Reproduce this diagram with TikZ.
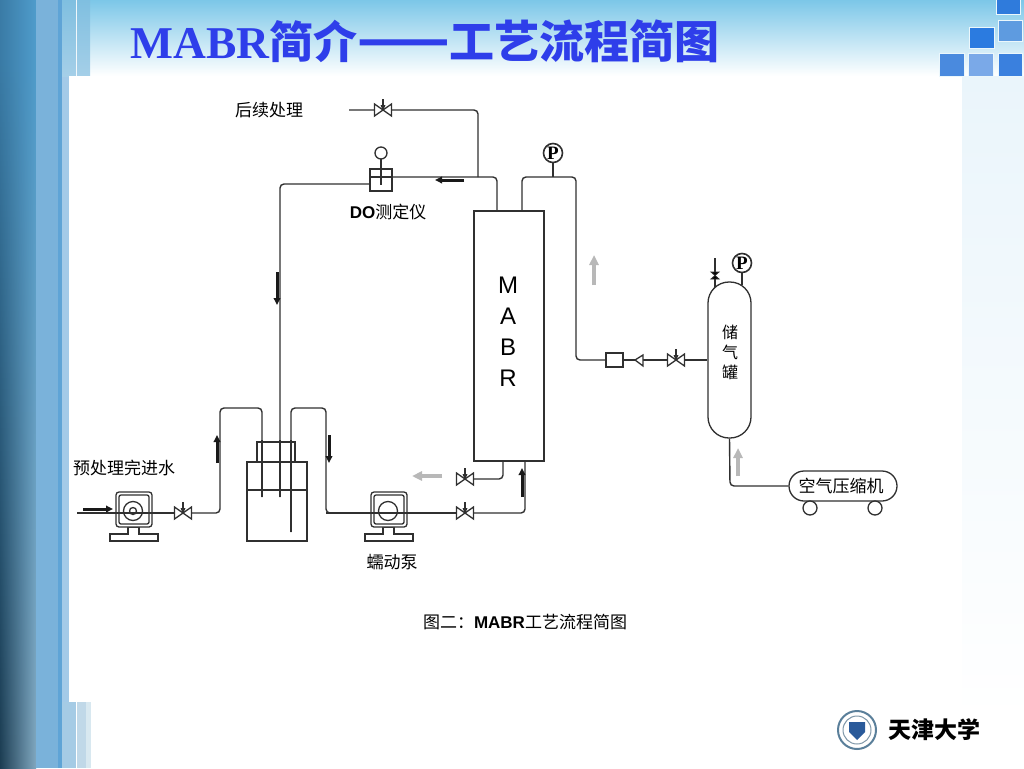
\documentclass[tikz,border=0pt]{standalone}
\usepackage{fontspec}
\usepackage{tikz}
\usetikzlibrary{arrows.meta}
\usetikzlibrary{calc}
\usetikzlibrary{fadings}
\setmainfont{Liberation Sans}
\newfontfamily\cjk{Noto Sans CJK SC}
\newfontfamily\titlefont{Liberation Serif}
\definecolor{titleblue}{HTML}{2E3EEA}
\definecolor{pipegray}{HTML}{303030}
\definecolor{skyblue}{HTML}{7CC7E8}
\definecolor{paleblue}{HTML}{EAF5FB}
\definecolor{bandleft}{HTML}{3A7BA6}
\definecolor{bandright}{HTML}{4F9CCB}
\definecolor{bandmid}{HTML}{7AB2DA}
\definecolor{bandedge}{HTML}{5FA4D6}
\definecolor{bandpale}{HTML}{A3CAE8}
\definecolor{stripa}{HTML}{A5CBE5}
\definecolor{stripb}{HTML}{C0D8E8}
\definecolor{stripc}{HTML}{D8E8F0}
\definecolor{stripd}{HTML}{7FBFE0}
\definecolor{stripe}{HTML}{A5CFE8}
\definecolor{tilea}{HTML}{2F7BDC}
\definecolor{tileb}{HTML}{5E9BE0}
\definecolor{tilec}{HTML}{2B7BE0}
\definecolor{tiled}{HTML}{4A8ADE}
\definecolor{tilee}{HTML}{7AA9E8}
\definecolor{tilef}{HTML}{3A80DE}
\definecolor{sealring}{HTML}{5A7F9A}
\definecolor{sealinner}{HTML}{7F97A8}
\definecolor{sealblue}{HTML}{2A5A9A}
\tikzset{
  pipe/.style={draw=pipegray, line width=1.4pt, rounded corners=4pt},
  part/.style={draw=pipegray, line width=1.3pt, fill=white},
  flowblack/.style={-{Triangle[length=7pt,width=6.5pt]}, line width=3pt, black!90},
  flowgray/.style={-{Triangle[length=10pt,width=9pt]}, line width=3.6pt, black!28},
  label/.style={text=black, inner sep=0pt, font=\fontsize{17}{20}\selectfont\cjk},
  tile/.style={draw=white!85!skyblue, line width=1pt},
  valve/.pic={
    \draw[part] (-8.5,-6) -- (8.5,6) -- (8.5,-6) -- (-8.5,6) -- cycle;
    \fill[pipegray] (-2.5,-5) -- (2.5,-5) -- (0,1) -- cycle;
    \draw[pipegray, line width=1.8pt] (0,0) -- (0,-11);
  },
  gauge/.pic={
    \draw[part, line width=1.6pt] (0,0) circle (9.5);
    \node[inner sep=0pt, font=\fontsize{19}{19}\selectfont\titlefont\bfseries] at (0,0) {P};
  },
  pump/.pic={
    \draw[part] (-23,28) -- (-23,21) -- (-5,21) -- (-5,14) -- (6,14) -- (6,21) -- (25,21) -- (25,28) -- cycle;
    \draw[part, rounded corners=3pt] (-17,-21) rectangle (19,14);
    \draw[draw=pipegray, line width=1.3pt, rounded corners=2pt] (-14,-18) rectangle (16,11);
    \draw[pipegray, line width=1.3pt] (0,-2) circle (9.5);
  }
}
\begin{document}
\begin{tikzpicture}[x=1pt, y=-1pt]
  \useasboundingbox (0,0) rectangle (1024,768);

  % slide background
  \fill[white] (0,0) rectangle (1024,768);
  \shade[top color=skyblue, bottom color=white] (90,0) rectangle (1024,76);
  \shade[top color=paleblue, bottom color=white] (962,76) rectangle (1024,720);
  \shade[left color=bandleft, right color=bandright] (0,0) rectangle (36,768);
  \shade[left color=black, right color=black!30, opacity=0.5, path fading=north] (0,60) rectangle (36,768);
  \fill[bandmid] (36,0) rectangle (58,768);
  \fill[bandedge] (58,0) rectangle (62,768);
  \fill[bandpale] (62,76) rectangle (69,702);
  \fill[stripa] (62,702) rectangle (76,768);
  \fill[stripb] (77,702) rectangle (86,768);
  \fill[stripc] (86,702) rectangle (91,768);
  \shade[top color=stripd, bottom color=stripe] (62,0) rectangle (76,76);
  \shade[top color=stripd, bottom color=stripe] (77,0) rectangle (90,76);
  \fill[white] (69,76) rectangle (962,702);

  % corner tiles
  \fill[tile, fill=tilea] (996,-2) rectangle (1020,15);
  \fill[tile, fill=tileb] (998,21) rectangle (1022,42);
  \fill[tile, fill=tilec] (969,28) rectangle (994,49);
  \fill[tile, fill=tiled] (939,54) rectangle (964,76);
  \fill[tile, fill=tilee] (968,54) rectangle (993,76);
  \fill[tile, fill=tilef] (998,54) rectangle (1022,76);

  % title
  \node[anchor=west, inner sep=0pt, text=titleblue, font=\fontsize{45}{48}\selectfont\bfseries] (title) at (130,41)
    {{\fontsize{45.5}{48}\selectfont\titlefont MABR}{\fontsize{44}{48}\selectfont\cjk 简介}{\fontsize{54}{48}\selectfont\cjk ——}{\cjk 工艺流程简图}};

  % points on the pipes
  \coordinate (feed) at (77,513);
  \coordinate (pump1) at (133,513);
  \coordinate (valve1) at (183,513);
  \coordinate (pump2) at (388,513);
  \coordinate (valve2) at (465,513);
  \coordinate (valve3) at (465,479);
  \coordinate (valve4) at (383,110);
  \coordinate (valve5) at (676,360);
  \coordinate (outlet) at (349,110);
  \coordinate (branch) at (478,177);
  \coordinate (gauge1) at (553,153);
  \coordinate (gauge2) at (742,263);

  % vessels
  \node[part, minimum width=70pt, minimum height=250pt, inner sep=0pt] (mabr) at (509,336) {};
  \node[inner sep=0pt, align=center, font=\fontsize{24}{31}\selectfont] (mabrtext) at (508,332) {M\\A\\B\\R};
  \node[part, rounded corners=21pt, minimum width=43pt, minimum height=156pt, inner sep=0pt] (tank) at (729.5,360) {};
  \node[part, rounded corners=15pt, minimum width=108pt, minimum height=30pt, inner sep=0pt, font=\fontsize{17}{18}\selectfont\cjk] (compressor) at (843,486) {\hspace{-4pt}空气压缩机};
  \node[part, minimum width=17pt, minimum height=14pt, inner sep=0pt] (filter) at (614.5,360) {};

  % pipes
  \draw[pipe] (feed) -- (valve1) -- (220,513) -- (220,408) -- (262,408) -- (262,497);
  \draw[pipe] (280,497) -- (280,184) -- (370,184);
  \draw[pipe] (291,532) -- (291,408) -- (326,408) -- (326,513) -- (valve2) -- (525,513) -- (525,461);
  \draw[pipe] (valve3) -- (503,479) -- (503,461);
  \draw[pipe] (outlet) -- (valve4) -- (478,110) -- (branch);
  \draw[pipe] (392,177) -- (497,177) -- (497,211);
  \draw[pipe] (522,211) -- (522,177) -- (576,177) -- (576,360) -- (filter);
  \draw[pipe] (gauge1) -- (553,177);
  \draw[pipe] (filter) -- (valve5) -- (tank.west);
  \draw[pipe] (gauge2) -- (742,285);
  \draw[pipe] (715,258) -- (715,287);
  \draw[pipe] (tank.south) -- (730,486) -- (compressor.west);

  % reactor
  \draw[part] (257,462) -- (257,442) -- (295,442) -- (295,462);
  \draw[part, fill=none] (247,462) rectangle (307,541);
  \draw[part] (247,490) -- (307,490);
  \draw[pipe] (262,440) -- (262,497) (280,440) -- (280,497) (291,440) -- (291,532);

  % instruments
  \draw[part] (370,169) rectangle (392,191);
  \draw[part] (370,177) -- (392,177);
  \draw[part] (381,159) -- (381,185);
  \draw[part] (381,153) circle (6);
  \pic at (pump1) {pump};
  \pic at (pump2) {pump};
  \draw[pipe] (feed) -- (valve1) (326,513) -- (valve2);
  \draw[pipegray, line width=1.3pt] (133,511) circle (3.5);
  \pic at (valve1) {valve};
  \pic at (valve2) {valve};
  \pic at (valve3) {valve};
  \pic at (valve4) {valve};
  \pic at (valve5) {valve};
  \pic at (gauge1) {gauge};
  \pic at (gauge2) {gauge};
  \draw[part] (635,360) -- (643,355) -- (643,366) -- cycle;
  \draw[part, fill=black, line width=0.8pt] (711,272) -- (719,279) -- (711,279) -- (719,272) -- cycle;
  \draw[part] (810,508) circle (7);
  \draw[part] (875,508) circle (7);

  % flow directions
  \draw[flowblack] (83,509) -- (113,509);
  \draw[flowblack] (217,463) -- (217,435);
  \draw[flowblack] (329,435) -- (329,463);
  \draw[flowblack] (277,272) -- (277,305);
  \draw[flowblack] (464,180) -- (435,180);
  \draw[flowblack] (522,497) -- (522,468);
  \draw[flowgray] (442,476) -- (412,476);
  \draw[flowgray] (594,285) -- (594,255);
  \draw[flowgray] (738,476) -- (738,448);

  % labels
  \node[label] (lblout) at (269,110) {后续处理};
  \node[label] (lbldo) at (388,212) {\fontspec{Liberation Sans}\bfseries DO\cjk\mdseries 测定仪};
  \node[label] (lblfeed) at (124,468) {预处理完进水};
  \node[label] (lblpump) at (392,562) {蠕动泵};
  \node[label] (lblcap) at (525,622) {图二：\fontspec{Liberation Sans}\bfseries MABR\cjk\mdseries 工艺流程简图};
  \node[label, align=center, font=\fontsize{16}{20}\selectfont\cjk] (lbltank) at (730,352) {储\\气\\罐};

  % university mark
  \draw[draw=sealring, line width=2pt] (857,730) circle (19);
  \draw[draw=sealinner, line width=1pt] (857,730) circle (14);
  \fill[sealblue] (849,722) -- (865,722) -- (865,732) -- (857,740) -- (849,732) -- cycle;
  \node[inner sep=0pt, text=black, font=\fontsize{23}{24}\selectfont\cjk\bfseries] (uni) at (934,730) {天津大学};
\end{tikzpicture}
\end{document}
